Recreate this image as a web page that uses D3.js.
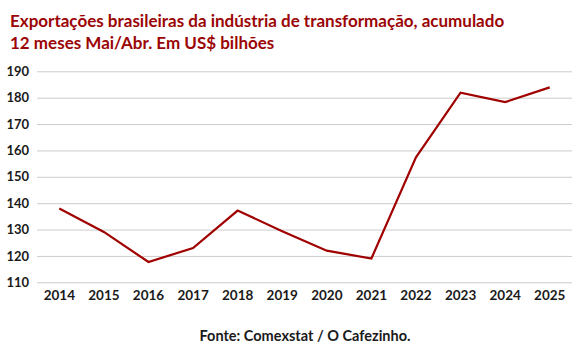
<!DOCTYPE html>
<html><head><meta charset="utf-8">
<script src="https://cdn.jsdelivr.net/npm/d3@7"></script>
<style>body{margin:0;background:#fff}svg{display:block}</style>
</head><body>
<svg id="c" width="583" height="352"></svg>
<script>
const years = ["2014","2015","2016","2017","2018","2019","2020","2021","2022","2023","2024","2025"];
const values = [138.0, 129.1, 117.7, 123.0, 137.2, 129.4, 122.0, 119.0, 157.4, 181.9, 178.3, 183.9];
const yTicks = [110,120,130,140,150,160,170,180,190];
const titleLines = ["Exportações brasileiras da indústria de transformação, acumulado","12 meses Mai/Abr. Em US$ bilhões"];
const source = "Fonte: Comexstat / O Cafezinho.";

const svg = d3.select("#c");
const font = "Lato, 'Open Sans', sans-serif";
const L = 37, R = 572, T = 71.3, B = 282.3;
const x = d3.scaleBand().domain(years).range([L, R]);
const y = d3.scaleLinear().domain([110,190]).range([B, T]);

svg.append("g").selectAll("text").data(titleLines).join("text")
  .attr("x", 10).attr("y", (d,i)=>27 + i*21.5)
  .attr("font-family", font).attr("font-weight", "bold").attr("font-size", 17)
  .attr("fill", "#9b0505").text(d=>d);

const yAxis = svg.append("g").attr("transform", `translate(${L},0)`)
  .call(d3.axisLeft(y).tickValues(yTicks).tickSize(-(R-L)).tickPadding(8));
yAxis.select(".domain").remove();
yAxis.selectAll(".tick line").attr("stroke", "#cccccc").attr("stroke-width", 1);
yAxis.selectAll(".tick text").attr("font-family", font).attr("font-weight", "bold")
  .attr("font-size", 13).attr("fill", "#1a1a1a");

const xAxis = svg.append("g").attr("transform", `translate(0,${B})`)
  .call(d3.axisBottom(x).tickSize(0).tickPadding(8));
xAxis.select(".domain").remove();
xAxis.selectAll(".tick text").attr("font-family", font).attr("font-weight", "bold")
  .attr("font-size", 13.5).attr("fill", "#1a1a1a");

const line = d3.line().x((d,i)=>x(years[i]) + x.bandwidth()/2).y(d=>y(d));
svg.append("path").datum(values).attr("d", line)
  .attr("fill", "none").attr("stroke", "#a00000").attr("stroke-width", 2.2)
  .attr("stroke-linejoin", "miter");

svg.append("text").attr("x", 305).attr("y", 341).attr("text-anchor", "middle")
  .attr("font-family", font).attr("font-weight", "bold").attr("font-size", 14.5)
  .attr("fill", "#1a1a1a").text(source);
</script>
</body></html>
